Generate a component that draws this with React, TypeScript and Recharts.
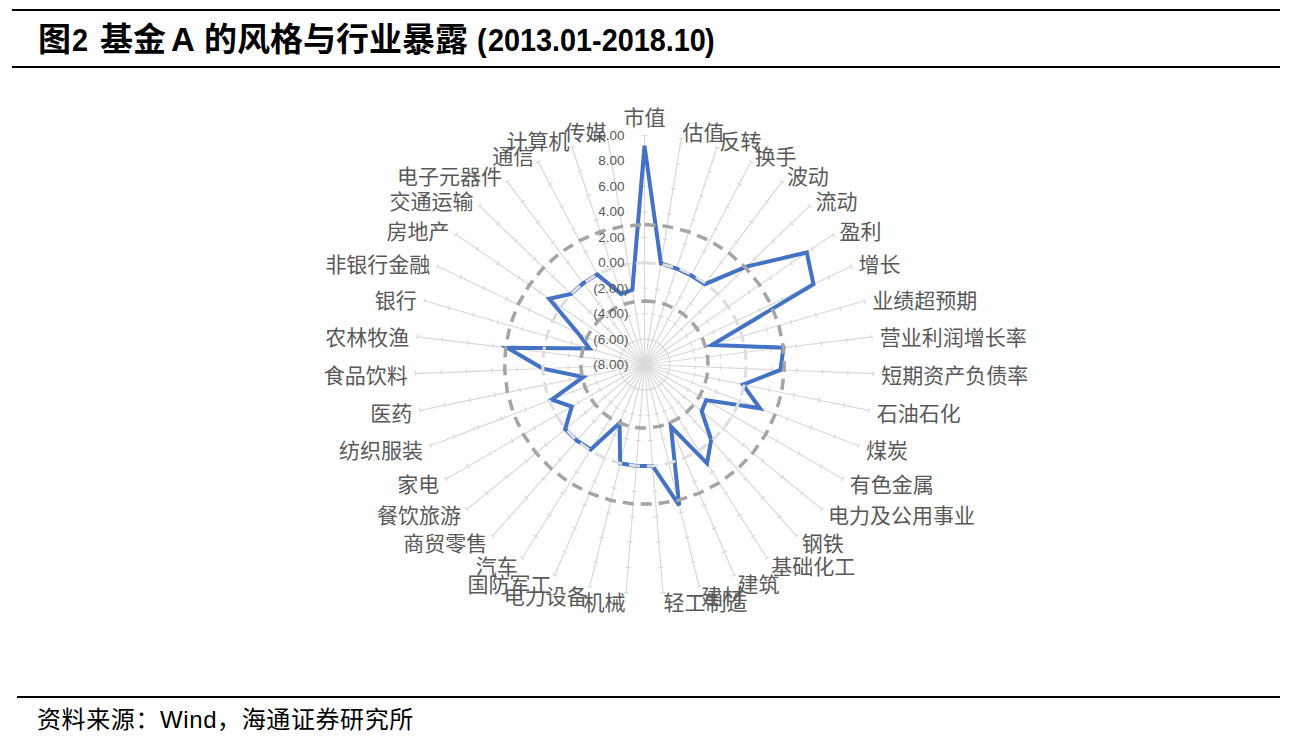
import { PolarAngleAxis, PolarGrid, PolarRadiusAxis, Radar, RadarChart } from 'recharts';

// factor / industry names, clockwise from top
const categories = [
  '市值', '估值', '反转', '换手', '波动', '流动', '盈利', '增长', '业绩超预期', '营业利润增长率',
  '短期资产负债率', '石油石化', '煤炭', '有色金属', '电力及公用事业', '钢铁', '基础化工', '建筑', '建材',
  '轻工制造', '机械', '电力设备', '国防军工', '汽车', '商贸零售', '餐饮旅游', '家电', '纺织服装', '医药',
  '食品饮料', '农林牧渔', '银行', '非银行金融', '房地产', '交通运输', '电子元器件', '通信', '计算机', '传媒',
];

// fund A exposure
const exposure = [
  9.2, 0.05, -0.05, -0.1, -0.1, 3.1, 7.5, 6.7, -2.5, 3.0,
  2.7, -0.1, 1.7, -2.4, -2.2, -0.1, 1.2, -2.7, 3.4,
  0.0, 0.0, 0.0, -3.0, -0.1, 0.0, 0.05, -1.4, -0.2, -3.1,
  0.0, 2.85, -3.5, -2.2, 1.1, 0.0, 0.0, 0.0, -2.15, -2.05,
];

// reference rings
const upperBand = 3;
const lowerBand = -3;
const zeroLine = 0;

const radiusTicks = [-8, -6, -4, -2, 0, 2, 4, 6, 8, 10];

const data = categories.map((name, i) => ({
  name,
  value: exposure[i],
  upper: upperBand,
  lower: lowerBand,
  zero: zeroLine,
}));

const CX = 636.5;
const CY = 356.5;
const OUTER = 229;
const MIN = radiusTicks[0];
const MAX = radiusTicks[radiusTicks.length - 1];

const fmt = (v: number) => (v < 0 ? `(${Math.abs(v).toFixed(2)})` : v.toFixed(2));

function RadiusTick(props: any) {
  const { x, y, payload } = props;
  const v = payload.value;
  return (
    <text
      x={x - (v < 0 ? 16 : 20)}
      y={y}
      textAnchor="end"
      dominantBaseline="central"
      fontSize={13.5}
      fontFamily="Liberation Sans, Arial, sans-serif"
      fill="#595959"
    >
      {fmt(v)}
    </text>
  );
}

function AngleTick(props: any) {
  const { x, y, textAnchor, payload } = props;
  const dy = textAnchor === 'middle' && y < CY ? -12 : 0;
  return (
    <text
      x={x}
      y={y + dy}
      textAnchor={textAnchor}
      dominantBaseline="central"
      fontSize={21}
      fontFamily="Noto Sans CJK SC, sans-serif"
      fill="#595959"
    >
      {payload.value}
    </text>
  );
}

// short tick marks on every spoke, drawn as dashed rings
const tickRadii = radiusTicks.slice(1).map((v) => ((v - MIN) / (MAX - MIN)) * OUTER);
const TICK_LEN = 5;

const titleFont = 'Liberation Sans, Arial, "Noto Sans CJK SC", sans-serif';
// narrow = condensed latin digits as in the source title
const titlePart = (left: number, narrow = false): React.CSSProperties => ({
  position: 'absolute',
  left,
  top: 0,
  fontSize: narrow ? 32 : 33,
  lineHeight: '34px',
  fontWeight: 700,
  fontFamily: titleFont,
  whiteSpace: 'pre',
  color: '#000',
  transform: narrow ? 'scaleX(0.9)' : undefined,
  transformOrigin: 'left center',
});

export default function App() {
  return (
    <div style={{ position: 'relative', width: 1280, height: 733, background: '#fff' }}>
      <div style={{ position: 'absolute', left: 4, top: 1, width: 1268, height: 2, background: '#000' }} />
      <div style={{ position: 'absolute', left: 0, top: 15, width: 800, height: 34 }}>
        <span style={titlePart(30)}>图</span>
        <span style={titlePart(64, true)}>2</span>
        <span style={titlePart(92)}>基金</span>
        <span style={titlePart(163)}>A</span>
        <span style={titlePart(196)}>的风格与行业暴露</span>
        <span style={titlePart(469, true)}>(</span>
        <span style={titlePart(480, true)}>2013.01-2018.10</span>
        <span style={titlePart(697, true)}>)</span>
      </div>
      <div style={{ position: 'absolute', left: 4, top: 58, width: 1268, height: 2, background: '#000' }} />

      <RadarChart
        style={{ position: 'absolute', left: 0, top: 0 }}
        width={1280}
        height={688}
        data={data}
        cx={CX}
        cy={CY}
        outerRadius={OUTER}
        margin={{ top: 0, right: 0, bottom: 0, left: 0 }}
      >
        <PolarGrid gridType="circle" polarRadius={[]} stroke="#d9d9d9" strokeWidth={1.2} />
        {tickRadii.map((r) => {
          const s = (2 * Math.PI * r) / categories.length;
          return (
            <PolarGrid
              key={r}
              gridType="circle"
              radialLines={false}
              polarRadius={[r]}
              stroke="#d9d9d9"
              strokeWidth={1.2}
              strokeDasharray={`${TICK_LEN} ${s - TICK_LEN}`}
              strokeDashoffset={TICK_LEN / 2 - 0.25 * s}
            />
          );
        })}
        <PolarAngleAxis dataKey="name" tick={AngleTick} tickLine={false} axisLine={false} />
        <PolarRadiusAxis
          angle={90}
          type="number"
          domain={[MIN, MAX]}
          ticks={radiusTicks}
          tickCount={radiusTicks.length}
          axisLine={false}
          tickLine={false}
          tick={RadiusTick}
        />
        <Radar
          dataKey="value"
          stroke="#4472C4"
          strokeWidth={4}
          fill="none"
          fillOpacity={0}
          strokeLinejoin="miter"
          dot={false}
          isAnimationActive={false}
        />
        <Radar
          dataKey="zero"
          stroke="#dedede"
          strokeWidth={3}
          strokeDasharray="11 7"
          fill="none"
          fillOpacity={0}
          dot={false}
          isAnimationActive={false}
        />
        <Radar
          dataKey="upper"
          stroke="#a5a5a5"
          strokeWidth={3.5}
          strokeDasharray="11 7"
          fill="none"
          fillOpacity={0}
          dot={false}
          isAnimationActive={false}
        />
        <Radar
          dataKey="lower"
          stroke="#a5a5a5"
          strokeWidth={3.5}
          strokeDasharray="11 7"
          fill="none"
          fillOpacity={0}
          dot={false}
          isAnimationActive={false}
        />
      </RadarChart>

      <div style={{ position: 'absolute', left: 9, top: 688, width: 1263, height: 2, background: '#000' }} />
      <div
        style={{
          position: 'absolute',
          left: 29,
          top: 699,
          fontSize: 24,
          lineHeight: '26px',
          letterSpacing: 0.6,
          fontFamily: 'Liberation Sans, Arial, "Noto Sans CJK SC", sans-serif',
          color: '#000',
          whiteSpace: 'pre',
        }}
      >
        资料来源：Wind，海通证券研究所
      </div>
    </div>
  );
}
